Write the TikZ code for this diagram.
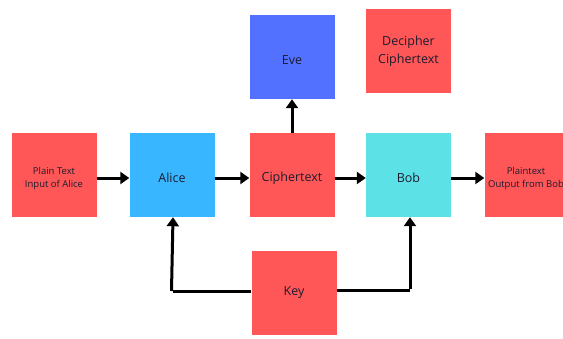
\documentclass[tikz,border=0pt]{standalone}
\usepackage{fontspec}
\setmainfont{Open Sans}
\usetikzlibrary{arrows.meta}
\definecolor{boxred}{HTML}{FF5757}
\definecolor{aliceblue}{HTML}{38B6FF}
\definecolor{eveblue}{HTML}{5271FF}
\definecolor{bobcyan}{HTML}{5CE1E6}
\definecolor{txt}{HTML}{1C1C2E}
\begin{document}
\begin{tikzpicture}[x=1pt,y=-1pt,
  blk/.style={minimum width=85pt,minimum height=84pt,inner sep=0pt,text=txt,align=center,font=\fontsize{12.5}{18}\selectfont},
  smallblk/.style={blk,font=\fontsize{9.5}{13}\selectfont},
  lbl/.style={text=txt,align=center,inner sep=0pt},
  conn/.style={line width=3pt,-{Triangle[length=9pt,width=12pt]}},
  seg/.style={line width=3pt}]
\useasboundingbox (0,0) rectangle (563,338);
\fill[white] (0,0) rectangle (563,338);
\node[blk,fill=boxred] (pt) at (54,175) {};
\node[lbl,font=\fontsize{9.5}{13}\selectfont] (ptl) at (54,179) {Plain Text\\Input of Alice};
\node[blk,fill=aliceblue] (alice) at (172,175) {};
\node[lbl,font=\fontsize{12.5}{18}\selectfont] (alicel) at (172,178) {Alice};
\node[blk,fill=boxred] (ct) at (292,175) {};
\node[lbl,font=\fontsize{12.5}{18}\selectfont] (ctl) at (292,178) {Ciphertext};
\node[blk,fill=eveblue] (eve) at (292,57) {};
\node[lbl,font=\fontsize{12.5}{18}\selectfont] (evel) at (292,60) {Eve};
\node[blk,fill=boxred] (dec) at (408.5,50.5) {};
\node[lbl,font=\fontsize{12.5}{18}\selectfont] (decl) at (408.5,51.5) {Decipher\\Ciphertext};
\node[blk,fill=bobcyan] (bob) at (408.5,175) {};
\node[lbl,font=\fontsize{12.5}{18}\selectfont] (bobl) at (408.5,178) {Bob};
\node[blk,fill=boxred] (out) at (527,175) {};
\node[lbl,font=\fontsize{9.5}{13}\selectfont] (outl) at (526,179) {Plaintext\\Output from Bob};
\node[blk,fill=boxred] (key) at (294,293) {};
\node[lbl,font=\fontsize{12.5}{18}\selectfont] (keyl) at (294,293) {Key};
\coordinate (kl) at (173,291);
\coordinate (kr) at (410,290);
\draw[conn] (pt.east |- 0,178) -- (alice.west |- 0,178);
\draw[conn] (alice.east |- 0,178) -- (ct.west |- 0,178);
\draw[conn] (ct.east |- 0,178) -- (bob.west |- 0,178);
\draw[conn] (bob.east |- 0,178) -- (out.west |- 0,178);
\draw[conn] (ct.north) -- (eve.south);
\draw[seg] (key.west |- kl) -- (kl);
\draw[conn] ([xshift=-1.5pt]kl) -- (kl |- alice.south);
\draw[seg] (key.east |- kr) -- (kr);
\draw[conn] ([yshift=1.5pt]kr) -- (kr |- bob.south);
\end{tikzpicture}
\end{document}
